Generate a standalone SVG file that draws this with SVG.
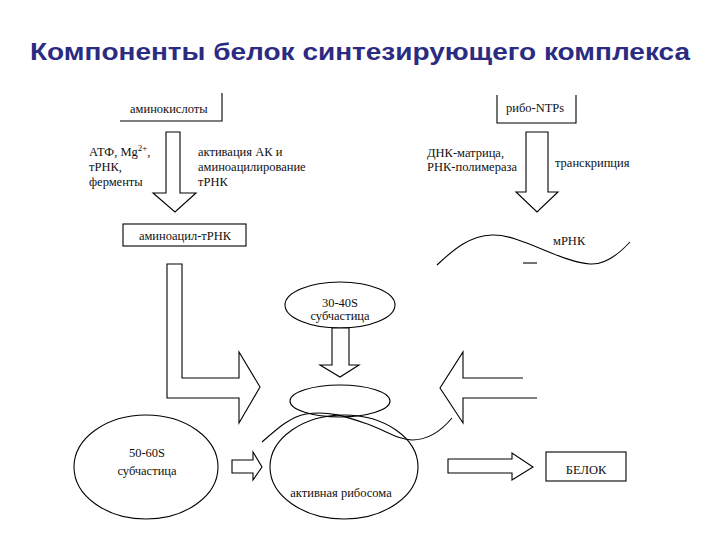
<svg xmlns="http://www.w3.org/2000/svg" width="720" height="540" viewBox="0 0 720 540">
<style>
.ln{fill:none;stroke:#000;stroke-width:1.1}
.sh{fill:#fff;stroke:#000;stroke-width:1.1}
.t{font-family:"Liberation Serif","DejaVu Serif","Times New Roman",serif;font-size:12.5px;fill:#111}
.c{text-anchor:middle}
.title{font-family:"Liberation Sans",Arial,sans-serif;font-weight:bold;font-size:24px;fill:#2b2b82}
</style>
<rect width="720" height="540" fill="#fff"/>
<text class="title" x="360" y="60" text-anchor="middle" textLength="660" lengthAdjust="spacingAndGlyphs">Компоненты белок синтезирующего комплекса</text>

<g id="aminoacids">
<path class="ln" d="M120 121 H222 V93"/>
<text class="t" x="130" y="113">аминокислоты</text>
</g>
<g id="ribo-ntps">
<path class="ln" d="M497 95 V123 H576 V95"/>
<text class="t" x="506" y="112">рибо-NTPs</text>
</g>
<g id="cofactors-left">
<text class="t" x="89" y="156">АТФ, Mg<tspan font-size="9" dy="-5">2+</tspan><tspan dy="5">,</tspan></text>
<text class="t" x="89" y="171">тРНК,</text>
<text class="t" x="89" y="186">ферменты</text>
</g>
<g id="activation">
<text class="t" x="198" y="156">активация АК и</text>
<text class="t" x="198" y="171">аминоацилирование</text>
<text class="t" x="198" y="186">тРНК</text>
</g>
<g id="dna">
<text class="t" x="427" y="157">ДНК-матрица,</text>
<text class="t" x="427" y="171">РНК-полимераза</text>
</g>
<g id="transcription">
<text class="t" x="555" y="167">транскрипция</text>
</g>
<g id="aminoacyl-trna">
<rect class="sh" x="123" y="224" width="123" height="22"/>
<text class="t c" x="185" y="240">аминоацил-тРНК</text>
</g>
<g id="mrna">
<path class="ln" d="M437 265 C455 248 470 236 492 235 C520 234 560 262 590 264 C605 265 618 255 630 242"/>
<path class="ln" d="M523 263 H537"/>
<text class="t" x="553" y="245">мРНК</text>
</g>
<g id="subunit-30-40S">
<ellipse class="sh" cx="340" cy="305" rx="55" ry="23"/>
<text class="t c" x="340" y="307">30-40S</text>
<text class="t c" x="340" y="320">субчастица</text>
</g>
<g id="subunit-50-60S">
<ellipse class="sh" cx="146" cy="467" rx="72" ry="52"/>
<text class="t c" x="147" y="457">50-60S</text>
<text class="t c" x="147" y="475">субчастица</text>
</g>
<g id="ribosome">
<ellipse class="ln" cx="344" cy="467" rx="74" ry="52"/>
<ellipse class="ln" cx="340" cy="401" rx="50" ry="16"/>
<text class="t c" x="341" y="497">активная рибосома</text>
</g>
<g id="protein">
<rect class="sh" x="546" y="452" width="80" height="29"/>
<text class="t c" x="586" y="474">БЕЛОК</text>
</g>

<g id="connectors">
<path class="sh" d="M166 132 H180 V193 H196 L175 212 L153 193 H166 Z"/>
<path class="sh" d="M526 132 H548 V192 H558 L537 212 L516 192 H526 Z"/>
<path class="sh" d="M167 264 H182 V378 H239 V352 L260 387 L239 423 V398 H167 Z"/>
<path class="sh" d="M332 328 H349 V365 H359 L340 377 L320 365 H332 Z"/>
<path class="ln" d="M537 398 H463 V423 L440 388 L463 352 V378 H523"/>
<path class="sh" d="M232 460 H253 V452 L262 467 L253 480 V473 H232 Z"/>
<path class="sh" d="M448 459 H512 V453 L533 467 L512 480 V473 H448 Z"/>
<path class="ln" d="M262 442 C278 428 290 417 306 414 C330 410 350 418 370 425 C388 432 400 440 412 440 C428 440 442 430 452 418"/>
</g>
</svg>
